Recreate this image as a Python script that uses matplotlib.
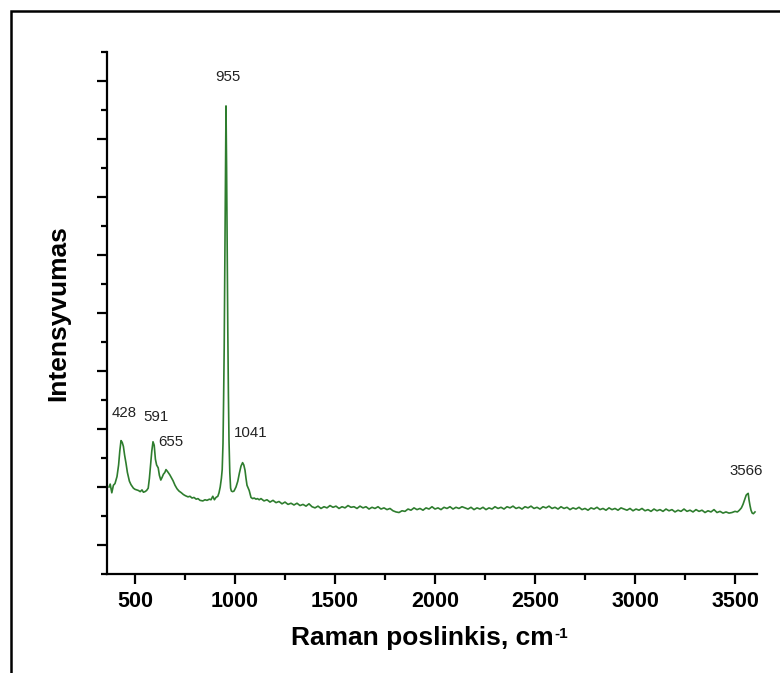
import numpy as np
import matplotlib.pyplot as plt
from matplotlib.patches import Rectangle
from matplotlib.ticker import MultipleLocator

# Raman spektras, intensyvumas santykiniais vienetais

shift = [370, 376, 384, 392, 400, 410, 418, 424, 430, 436, 442, 448, 455, 462, 472, 480,
         492, 500, 508, 517, 526, 535, 542, 550, 558, 566, 572, 578, 584, 590, 596, 602,
         608, 616, 622, 629, 636, 642, 649, 655, 662, 668, 674, 682, 690, 700, 710, 720,
         732, 742, 752, 765, 775, 785, 795, 806, 815, 825, 839, 850, 860, 872, 880, 889,
         897, 905, 914, 920, 926, 932, 936, 940, 943, 946, 949, 952, 955, 958, 961, 964,
         967, 970, 974, 978, 982, 988, 995, 1005, 1014, 1022, 1030, 1038, 1044, 1050, 1055, 1060,
         1066, 1071, 1080, 1088, 1096, 1105, 1112, 1121,
         1130, 1145, 1160, 1175, 1190, 1205, 1220, 1235, 1250, 1265, 1280, 1295, 1310, 1325, 1340, 1355,
         1370, 1385, 1400, 1415, 1430, 1445, 1460, 1475, 1490, 1505, 1520, 1535, 1550, 1565, 1580, 1595,
         1610, 1625, 1640, 1655, 1670, 1685, 1700, 1715, 1730, 1745, 1760, 1775, 1790, 1805, 1820, 1835,
         1850, 1865, 1880, 1895, 1910, 1925, 1940, 1955, 1970, 1985, 2000, 2015, 2030, 2045, 2060, 2075,
         2090, 2105, 2120, 2135, 2150, 2165, 2180, 2195, 2210, 2225, 2240, 2255, 2270, 2285, 2300, 2315,
         2330, 2345, 2360, 2375, 2390, 2405, 2420, 2435, 2450, 2465, 2480, 2495, 2510, 2525, 2540, 2555,
         2570, 2585, 2600, 2615, 2630, 2645, 2660, 2675, 2690, 2705, 2720, 2735, 2750, 2765, 2780, 2795,
         2810, 2825, 2840, 2855, 2870, 2885, 2900, 2915, 2930, 2945, 2960, 2975, 2990, 3005, 3020, 3035,
         3050, 3065, 3080, 3095, 3110, 3125, 3140, 3155, 3170, 3185, 3200, 3215, 3230, 3245, 3260, 3275,
         3290, 3305, 3320, 3335, 3350, 3365, 3380, 3395, 3410, 3425, 3440, 3455, 3470, 3485, 3500, 3512,
         3522, 3532, 3540, 3548, 3556, 3562, 3566, 3570, 3575, 3580, 3586, 3592, 3600]

intensity = [1.00, 1.05, 0.90, 1.03, 1.06, 1.18, 1.38, 1.62, 1.80, 1.77, 1.70, 1.55, 1.41, 1.25, 1.10, 1.04,
             0.98, 0.96, 0.95, 0.94, 0.92, 0.95, 0.91, 0.92, 0.94, 0.98, 1.15, 1.38, 1.62, 1.78, 1.72, 1.48,
             1.38, 1.33, 1.20, 1.12, 1.17, 1.22, 1.25, 1.30, 1.27, 1.24, 1.21, 1.16, 1.11, 1.03, 0.97, 0.93,
             0.90, 0.87, 0.85, 0.83, 0.84, 0.81, 0.82, 0.79, 0.80, 0.77, 0.76, 0.78, 0.77, 0.79, 0.78, 0.84,
             0.78, 0.82, 0.84, 0.90, 1.00, 1.15, 1.30, 1.75, 2.50, 3.40, 4.80, 6.30, 7.57, 6.50, 5.00, 3.70,
             2.60, 1.80, 1.25, 0.98, 0.93, 0.92, 0.93, 1.00, 1.10, 1.24, 1.36, 1.42, 1.38, 1.29, 1.15, 1.03,
             0.98, 0.94, 0.82, 0.80, 0.81, 0.79, 0.80, 0.78,
             0.80, 0.76, 0.78, 0.74, 0.77, 0.73, 0.75, 0.71, 0.74, 0.70, 0.72, 0.69, 0.72, 0.68, 0.70, 0.67,
             0.71, 0.66, 0.64, 0.67, 0.63, 0.66, 0.64, 0.68, 0.65, 0.67, 0.63, 0.66, 0.64, 0.68, 0.65, 0.66,
             0.63, 0.67, 0.64, 0.66, 0.62, 0.65, 0.63, 0.66, 0.62, 0.64, 0.61, 0.63, 0.59, 0.57, 0.56, 0.59,
             0.58, 0.62, 0.60, 0.64, 0.61, 0.63, 0.60, 0.64, 0.62, 0.66, 0.62, 0.64, 0.61, 0.65, 0.63, 0.66,
             0.62, 0.65, 0.63, 0.66, 0.64, 0.62, 0.65, 0.61, 0.64, 0.62, 0.65, 0.61, 0.64, 0.62, 0.66, 0.63,
             0.65, 0.62, 0.66, 0.64, 0.67, 0.63, 0.65, 0.62, 0.66, 0.64, 0.67, 0.63, 0.65, 0.62, 0.66, 0.64,
             0.67, 0.63, 0.65, 0.62, 0.66, 0.63, 0.65, 0.61, 0.64, 0.62, 0.65, 0.61, 0.63, 0.60, 0.64, 0.62,
             0.65, 0.61, 0.63, 0.60, 0.64, 0.61, 0.63, 0.60, 0.64, 0.62, 0.60, 0.63, 0.59, 0.62, 0.60, 0.63,
             0.59, 0.61, 0.58, 0.62, 0.59, 0.61, 0.58, 0.62, 0.59, 0.61, 0.57, 0.60, 0.58, 0.62, 0.58, 0.60,
             0.57, 0.61, 0.58, 0.60, 0.56, 0.59, 0.57, 0.61, 0.56, 0.58, 0.55, 0.57, 0.55, 0.56, 0.58, 0.57,
             0.60, 0.64, 0.70, 0.78, 0.86, 0.88, 0.89, 0.78, 0.68, 0.60, 0.55, 0.54, 0.57]

peak_labels = ['428', '591', '655', '955', '1041', '3566']
label_x = [447, 603, 680, 963, 1078, 3555]
label_y = [2.27, 2.20, 1.77, 8.07, 1.93, 1.28]

x_ticks = [500, 1000, 1500, 2000, 2500, 3000, 3500]


def main():
    plt.rcParams['font.family'] = ['Liberation Sans', 'DejaVu Sans']

    fig = plt.figure(figsize=(7.8, 6.73), dpi=100)
    ax = fig.add_axes([107 / 780, 1 - 574 / 673, 650 / 780, 522 / 673])

    # remelis aplink visa paveiksla (matosi tik kaire ir virsus)
    fig.patches.append(Rectangle((11 / 780, -0.2), 1.2, 1.2 - 11 / 673,
                                 transform=fig.transFigure, fill=False,
                                 edgecolor='black', linewidth=1.8))

    ax.plot(shift, intensity, color='#2e7d2e', linewidth=1.2)

    for lab, lx, ly in zip(peak_labels, label_x, label_y):
        ax.text(lx, ly, lab, ha='center', va='center', fontsize=10.8, color='#222222')

    ax.set_xlim(360, 3610)
    ax.set_ylim(-0.5, 8.5)
    ax.set_xticks(x_ticks)
    ax.xaxis.set_minor_locator(MultipleLocator(250))
    ax.yaxis.set_major_locator(MultipleLocator(1))
    ax.yaxis.set_minor_locator(MultipleLocator(0.5))
    ax.set_yticklabels([])

    ax.spines['top'].set_visible(False)
    ax.spines['right'].set_visible(False)
    for s in ['left', 'bottom']:
        ax.spines[s].set_linewidth(1.6)

    ax.tick_params(which='major', direction='out', length=7, width=1.6)
    ax.tick_params(which='minor', direction='out', length=4, width=1.6)
    ax.tick_params(axis='x', labelsize=15.5, pad=5)
    for t in ax.get_xticklabels():
        t.set_fontweight('bold')

    ax.set_xlabel('Raman poslinkis, cm', fontsize=19, fontweight='bold', labelpad=10)
    ax.xaxis.label.set_x(0.5 - 10 / 650)
    ax.set_ylabel('Intensyvumas', fontsize=19, fontweight='bold', labelpad=16)

    # laipsnis -1 kaip mazas tekstas uz "cm"
    fig.canvas.draw()
    bb = ax.xaxis.label.get_window_extent()
    inv = fig.transFigure.inverted()
    x1, y1 = inv.transform((bb.x1 + 1, bb.y1 - 1))
    fig.text(x1, y1, '-1', fontsize=11, fontweight='bold', ha='left', va='top')

    fig.savefig('out.png', dpi=100)


if __name__ == "__main__":
    main()
